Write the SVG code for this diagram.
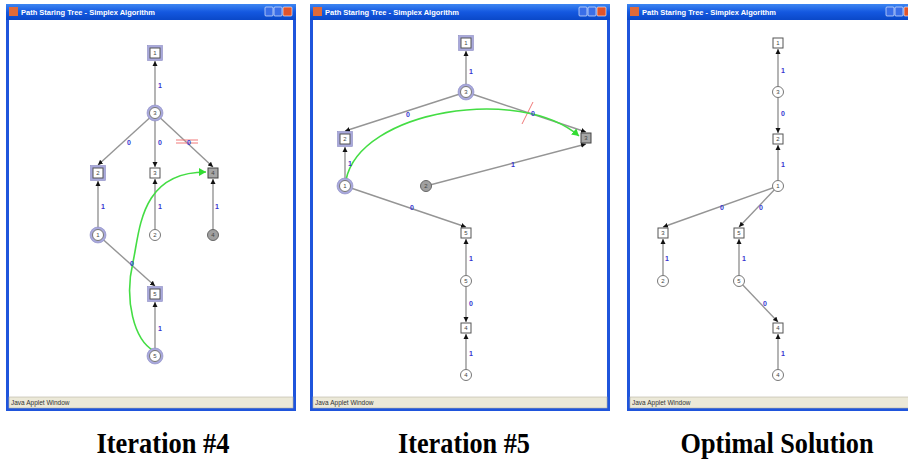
<svg xmlns="http://www.w3.org/2000/svg" width="908" height="460" viewBox="0 0 908 460">
<defs>
<linearGradient id="tb" x1="0" y1="0" x2="0" y2="1">
<stop offset="0" stop-color="#3d86f2"/>
<stop offset="0.5" stop-color="#1458e0"/>
<stop offset="1" stop-color="#0a48c8"/>
</linearGradient>
<marker id="ah" markerUnits="userSpaceOnUse" markerWidth="6" markerHeight="6" refX="5" refY="3" orient="auto">
<path d="M0,0.5 L5,3 L0,5.5 z" fill="#111"/>
</marker>
<marker id="gh" markerUnits="userSpaceOnUse" markerWidth="8" markerHeight="8" refX="7" refY="4" orient="auto">
<path d="M0,0 L7,4 L0,8 z" fill="#33dd33"/>
</marker>
</defs>
<style>
.frame{fill:#1f55dc}
.title{fill:url(#tb)}
.ttext{font-family:"Liberation Sans",Arial,sans-serif;font-weight:bold;font-size:8px;fill:#fff}
.content{fill:#fff}
.status{fill:#ece9d8;stroke:#b8b4a4;stroke-width:0.6}
.stext{font-family:"Liberation Sans",Arial,sans-serif;font-size:6.5px;fill:#333}
.edge{stroke:#959595;stroke-width:1.4;fill:none;marker-end:url(#ah)}
.green{stroke:#44dd44;stroke-width:1.6;fill:none;marker-end:url(#gh)}
.red{stroke:#f07878;stroke-width:1}
.lbl{font-family:"Liberation Sans",Arial,sans-serif;font-weight:bold;font-size:7px;fill:#3535d0;text-anchor:middle}
.ring{fill:#a9a9dc;stroke:#8c8cc4;stroke-width:0.6}
.sq{fill:#fff;stroke:#555;stroke-width:1}
.sqg{fill:#a6a6a6;stroke:#444;stroke-width:1}
.ci{fill:#fff;stroke:#777;stroke-width:1}
.cig{fill:#a0a0a0;stroke:#666;stroke-width:1}
.nt{font-family:"Liberation Sans",Arial,sans-serif;font-size:6px;fill:#444;text-anchor:middle}
.cap{font-family:"Liberation Serif","Times New Roman",serif;font-weight:bold;font-size:29px;fill:#000;text-anchor:middle}
.btn{fill:#3a6ee8;stroke:#fff;stroke-width:0.6}
.btnx{fill:#e0542c;stroke:#fff;stroke-width:0.6}
.icon{fill:#e06a3a}
</style>
<rect width="908" height="460" fill="#fff"/>

<!-- Window frames -->
<g id="window1">
<rect class="frame" x="6" y="4" width="290" height="407"/>
<rect class="title" x="6" y="4" width="290" height="16"/>
<rect class="icon" x="9" y="7" width="9" height="9"/>
<text class="ttext" x="21" y="15" textLength="134" lengthAdjust="spacingAndGlyphs">Path Staring Tree - Simplex Algorithm</text>
<rect class="btn" x="265" y="7" width="8" height="9" rx="1"/>
<rect class="btn" x="274" y="7" width="8" height="9" rx="1"/>
<rect class="btnx" x="283" y="7" width="9" height="9" rx="1"/>
<rect class="content" x="9" y="20" width="284" height="377"/>
<rect class="status" x="9" y="397" width="284" height="11"/>
<text class="stext" x="11" y="405">Java Applet Window</text>
</g>
<g id="window2">
<rect class="frame" x="310" y="4" width="300" height="407"/>
<rect class="title" x="310" y="4" width="300" height="16"/>
<rect class="icon" x="313" y="7" width="9" height="9"/>
<text class="ttext" x="325" y="15" textLength="134" lengthAdjust="spacingAndGlyphs">Path Staring Tree - Simplex Algorithm</text>
<rect class="btn" x="579" y="7" width="8" height="9" rx="1"/>
<rect class="btn" x="588" y="7" width="8" height="9" rx="1"/>
<rect class="btnx" x="597" y="7" width="9" height="9" rx="1"/>
<rect class="content" x="313" y="20" width="294" height="377"/>
<rect class="status" x="313" y="397" width="294" height="11"/>
<text class="stext" x="315" y="405">Java Applet Window</text>
</g>
<g id="window3">
<rect class="frame" x="627" y="4" width="290" height="407"/>
<rect class="title" x="627" y="4" width="290" height="16"/>
<rect class="icon" x="630" y="7" width="9" height="9"/>
<text class="ttext" x="642" y="15" textLength="134" lengthAdjust="spacingAndGlyphs">Path Staring Tree - Simplex Algorithm</text>
<rect class="btn" x="886" y="7" width="8" height="9" rx="1"/>
<rect class="btn" x="895" y="7" width="8" height="9" rx="1"/>
<rect class="btnx" x="904" y="7" width="9" height="9" rx="1"/>
<rect class="content" x="630" y="20" width="284" height="377"/>
<rect class="status" x="630" y="397" width="284" height="11"/>
<text class="stext" x="632" y="405">Java Applet Window</text>
</g>

<!-- Connectors -->
<g id="connectors">
<!-- window 1 -->
<line class="edge" x1="155" y1="113" x2="155" y2="61"/>
<line class="edge" x1="155" y1="113" x2="98" y2="165"/>
<line class="edge" x1="155" y1="113" x2="155" y2="167"/>
<line class="edge" x1="155" y1="113" x2="213" y2="167"/>
<line class="edge" x1="98" y1="235" x2="98" y2="181"/>
<line class="edge" x1="155" y1="235" x2="155" y2="179"/>
<line class="edge" x1="213" y1="235" x2="213" y2="179"/>
<line class="edge" x1="98" y1="235" x2="155" y2="286"/>
<line class="edge" x1="155" y1="356" x2="155" y2="302"/>
<line class="red" x1="176" y1="140" x2="198" y2="140"/>
<line class="red" x1="176" y1="143" x2="198" y2="143"/>
<path class="green" d="M154,351 C134,340 124,300 133,262 C140,230 140,172 206,172"/>
<!-- window 2 -->
<line class="edge" x1="466" y1="92" x2="466" y2="51"/>
<line class="edge" x1="466" y1="92" x2="345" y2="131"/>
<line class="edge" x1="466" y1="92" x2="586" y2="132"/>
<line class="edge" x1="345" y1="186" x2="345" y2="147"/>
<line class="edge" x1="426" y1="186" x2="586" y2="144"/>
<line class="edge" x1="345" y1="186" x2="466" y2="227"/>
<line class="edge" x1="466" y1="281" x2="466" y2="239"/>
<line class="edge" x1="466" y1="281" x2="466" y2="322"/>
<line class="edge" x1="466" y1="375" x2="466" y2="334"/>
<line class="red" x1="522" y1="124" x2="533" y2="102"/>
<path class="green" d="M346,180 C360,110 520,85 579,136"/>
<!-- window 3 -->
<line class="edge" x1="778" y1="92" x2="778" y2="49"/>
<line class="edge" x1="778" y1="92" x2="778" y2="133"/>
<line class="edge" x1="778" y1="186" x2="778" y2="145"/>
<line class="edge" x1="778" y1="186" x2="663" y2="227"/>
<line class="edge" x1="778" y1="186" x2="739" y2="227"/>
<line class="edge" x1="663" y1="281" x2="663" y2="239"/>
<line class="edge" x1="739" y1="281" x2="739" y2="239"/>
<line class="edge" x1="739" y1="281" x2="778" y2="322"/>
<line class="edge" x1="778" y1="375" x2="778" y2="334"/>
</g>

<!-- Edge labels -->
<g id="edge-labels">
<text class="lbl" x="160" y="88">1</text>
<text class="lbl" x="129" y="145">0</text>
<text class="lbl" x="160" y="145">0</text>
<text class="lbl" x="189" y="145">0</text>
<text class="lbl" x="103" y="209">1</text>
<text class="lbl" x="160" y="209">1</text>
<text class="lbl" x="217" y="209">1</text>
<text class="lbl" x="132" y="266">0</text>
<text class="lbl" x="160" y="331">1</text>

<text class="lbl" x="471" y="74">1</text>
<text class="lbl" x="408" y="117">0</text>
<text class="lbl" x="533" y="116">0</text>
<text class="lbl" x="350" y="166">1</text>
<text class="lbl" x="513" y="167">1</text>
<text class="lbl" x="412" y="210">0</text>
<text class="lbl" x="471" y="261">1</text>
<text class="lbl" x="471" y="306">0</text>
<text class="lbl" x="471" y="356">1</text>

<text class="lbl" x="783" y="73">1</text>
<text class="lbl" x="783" y="116">0</text>
<text class="lbl" x="783" y="167">1</text>
<text class="lbl" x="722" y="210">0</text>
<text class="lbl" x="761" y="210">0</text>
<text class="lbl" x="667" y="261">1</text>
<text class="lbl" x="744" y="261">1</text>
<text class="lbl" x="765" y="306">0</text>
<text class="lbl" x="783" y="356">1</text>
</g>

<!-- Window 1 nodes -->
<g id="w1-s1"><rect class="ring" x="147.5" y="45.5" width="15" height="15"/><rect class="sq" x="150" y="48" width="10" height="10"/><text class="nt" x="155" y="55.2">1</text></g>
<g id="w1-c3"><circle class="ring" cx="155" cy="113" r="8"/><circle class="ci" cx="155" cy="113" r="5.5"/><text class="nt" x="155" y="115.2">3</text></g>
<g id="w1-s2"><rect class="ring" x="90.5" y="165.5" width="15" height="15"/><rect class="sq" x="93" y="168" width="10" height="10"/><text class="nt" x="98" y="175.2">2</text></g>
<g id="w1-s3"><rect class="sq" x="150" y="168" width="10" height="10"/><text class="nt" x="155" y="175.2">3</text></g>
<g id="w1-s4"><rect class="sqg" x="208" y="168" width="10" height="10"/><text class="nt" x="213" y="175.2">4</text></g>
<g id="w1-c1"><circle class="ring" cx="98" cy="235" r="8"/><circle class="ci" cx="98" cy="235" r="5.5"/><text class="nt" x="98" y="237.2">1</text></g>
<g id="w1-c2"><circle class="ci" cx="155" cy="235" r="5.5"/><text class="nt" x="155" y="237.2">2</text></g>
<g id="w1-c4"><circle class="cig" cx="213" cy="235" r="5.5"/><text class="nt" x="213" y="237.2">4</text></g>
<g id="w1-s5"><rect class="ring" x="147.5" y="286.5" width="15" height="15"/><rect class="sq" x="150" y="289" width="10" height="10"/><text class="nt" x="155" y="296.2">5</text></g>
<g id="w1-c5"><circle class="ring" cx="155" cy="356" r="8"/><circle class="ci" cx="155" cy="356" r="5.5"/><text class="nt" x="155" y="358.2">5</text></g>

<!-- Window 2 nodes -->
<g id="w2-s1"><rect class="ring" x="458.5" y="35.5" width="15" height="15"/><rect class="sq" x="461" y="38" width="10" height="10"/><text class="nt" x="466" y="45.2">1</text></g>
<g id="w2-c3"><circle class="ring" cx="466" cy="92" r="8"/><circle class="ci" cx="466" cy="92" r="5.5"/><text class="nt" x="466" y="94.2">3</text></g>
<g id="w2-s2"><rect class="ring" x="337.5" y="131.5" width="15" height="15"/><rect class="sq" x="340" y="134" width="10" height="10"/><text class="nt" x="345" y="141.2">2</text></g>
<g id="w2-s3"><rect class="sqg" x="581" y="133" width="10" height="10"/><text class="nt" x="586" y="140.2">3</text></g>
<g id="w2-c1"><circle class="ring" cx="345" cy="186" r="8"/><circle class="ci" cx="345" cy="186" r="5.5"/><text class="nt" x="345" y="188.2">1</text></g>
<g id="w2-c2"><circle class="cig" cx="426" cy="186" r="5.5"/><text class="nt" x="426" y="188.2">2</text></g>
<g id="w2-s5"><rect class="sq" x="461" y="228" width="10" height="10"/><text class="nt" x="466" y="235.2">5</text></g>
<g id="w2-c5"><circle class="ci" cx="466" cy="281" r="5.5"/><text class="nt" x="466" y="283.2">5</text></g>
<g id="w2-s4"><rect class="sq" x="461" y="323" width="10" height="10"/><text class="nt" x="466" y="330.2">4</text></g>
<g id="w2-c4"><circle class="ci" cx="466" cy="375" r="5.5"/><text class="nt" x="466" y="377.2">4</text></g>

<!-- Window 3 nodes -->
<g id="w3-s1"><rect class="sq" x="773" y="38" width="10" height="10"/><text class="nt" x="778" y="45.2">1</text></g>
<g id="w3-c3"><circle class="ci" cx="778" cy="92" r="5.5"/><text class="nt" x="778" y="94.2">3</text></g>
<g id="w3-s2"><rect class="sq" x="773" y="134" width="10" height="10"/><text class="nt" x="778" y="141.2">2</text></g>
<g id="w3-c1"><circle class="ci" cx="778" cy="186" r="5.5"/><text class="nt" x="778" y="188.2">1</text></g>
<g id="w3-s3"><rect class="sq" x="658" y="228" width="10" height="10"/><text class="nt" x="663" y="235.2">3</text></g>
<g id="w3-s5"><rect class="sq" x="734" y="228" width="10" height="10"/><text class="nt" x="739" y="235.2">5</text></g>
<g id="w3-c2"><circle class="ci" cx="663" cy="281" r="5.5"/><text class="nt" x="663" y="283.2">2</text></g>
<g id="w3-c5"><circle class="ci" cx="739" cy="281" r="5.5"/><text class="nt" x="739" y="283.2">5</text></g>
<g id="w3-s4"><rect class="sq" x="773" y="323" width="10" height="10"/><text class="nt" x="778" y="330.2">4</text></g>
<g id="w3-c4"><circle class="ci" cx="778" cy="375" r="5.5"/><text class="nt" x="778" y="377.2">4</text></g>

<!-- Captions -->
<g id="captions">
<text class="cap" x="163" y="453" textLength="133" lengthAdjust="spacingAndGlyphs">Iteration #4</text>
<text class="cap" x="464" y="453" textLength="132" lengthAdjust="spacingAndGlyphs">Iteration #5</text>
<text class="cap" x="777" y="453" textLength="193" lengthAdjust="spacingAndGlyphs">Optimal Solution</text>
</g>
</svg>
